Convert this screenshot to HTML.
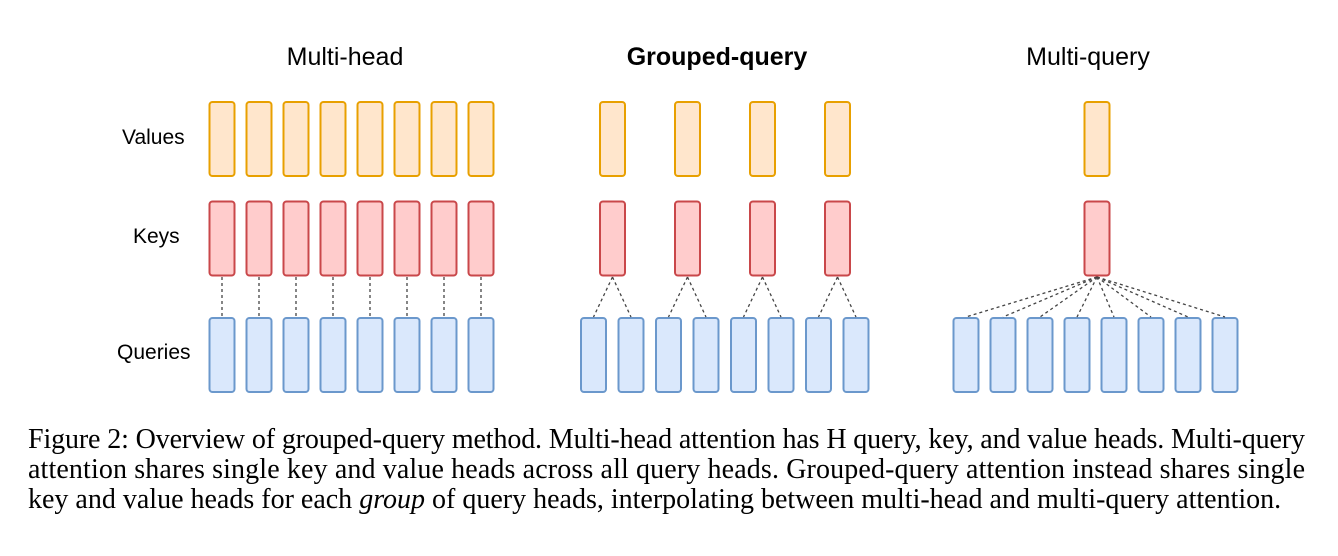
<!DOCTYPE html>
<html><head><meta charset="utf-8"><style>
body{margin:0;width:1338px;height:556px;background:#fff;position:relative;overflow:hidden}
.t{position:absolute;font-family:"Liberation Sans",sans-serif;color:#000}
</style></head><body>
<svg width="1338" height="556" style="position:absolute;left:0;top:0">
<g id="g"></g>
<g font-family="Liberation Serif, serif" font-size="28" fill="#000">
<text x="28" y="448" textLength="1277" lengthAdjust="spacing">Figure 2: Overview of grouped-query method. Multi-head attention has H query, key, and value heads. Multi-query</text>
<text x="28" y="478" textLength="1277" lengthAdjust="spacing">attention shares single key and value heads across all query heads. Grouped-query attention instead shares single</text>
<text x="28" y="508">key and value heads for each <tspan font-style="italic">group</tspan> of query heads, interpolating between multi-head and multi-query attention.</text>
</g>
</svg>
<div class="t" style="left:0;width:690px;text-align:center;top:43px;font-size:25px;">Multi-head</div>
<div class="t" style="left:0;width:1434px;text-align:center;top:43px;font-size:25px;font-weight:bold">Grouped-query</div>
<div class="t" style="left:970px;width:236px;text-align:center;top:43px;font-size:25px;">Multi-query</div>
<div class="t" style="left:122px;top:126px;font-size:21px">Values</div>
<div class="t" style="left:133px;top:225px;font-size:21px">Keys</div>
<div class="t" style="left:117px;top:341px;font-size:21px">Queries</div>
<script>
const g=document.getElementById('g');let s='';
function box(x,y,f,st){s+=`<rect x="${x}" y="${y}" width="25" height="74" rx="3" fill="${f}" stroke="${st}" stroke-width="2"/>`;}
function ln(x1,y1,x2,y2){s+=`<line x1="${x1}" y1="${y1}" x2="${x2}" y2="${y2}" stroke="#444" stroke-width="1.3" stroke-dasharray="3,3"/>`;}
const V=['#ffe6cc','#e8a000'],K=['#ffcccc','#c9474a'],Q=['#dae8fc','#6b98cc'];
for(let i=0;i<8;i++){const x=209.5+37*i;box(x,102,...V);box(x,201.5,...K);box(x,318,...Q);ln(x+12.5,277,x+12.5,317);}
for(let i=0;i<8;i++){const x=581+37.5*i;box(x,318,...Q);const kx=600+75*Math.floor(i/2);ln(kx+12.5,277,x+12.5,317);}
for(let k=0;k<4;k++){const x=600+75*k;box(x,102,...V);box(x,201.5,...K);}
for(let i=0;i<8;i++){const x=953.5+37*i;box(x,318,...Q);ln(1097,277,x+12.5,317);}
box(1084.5,102,...V);box(1084.5,201.5,...K);
g.innerHTML=s;
</script>
</body></html>
